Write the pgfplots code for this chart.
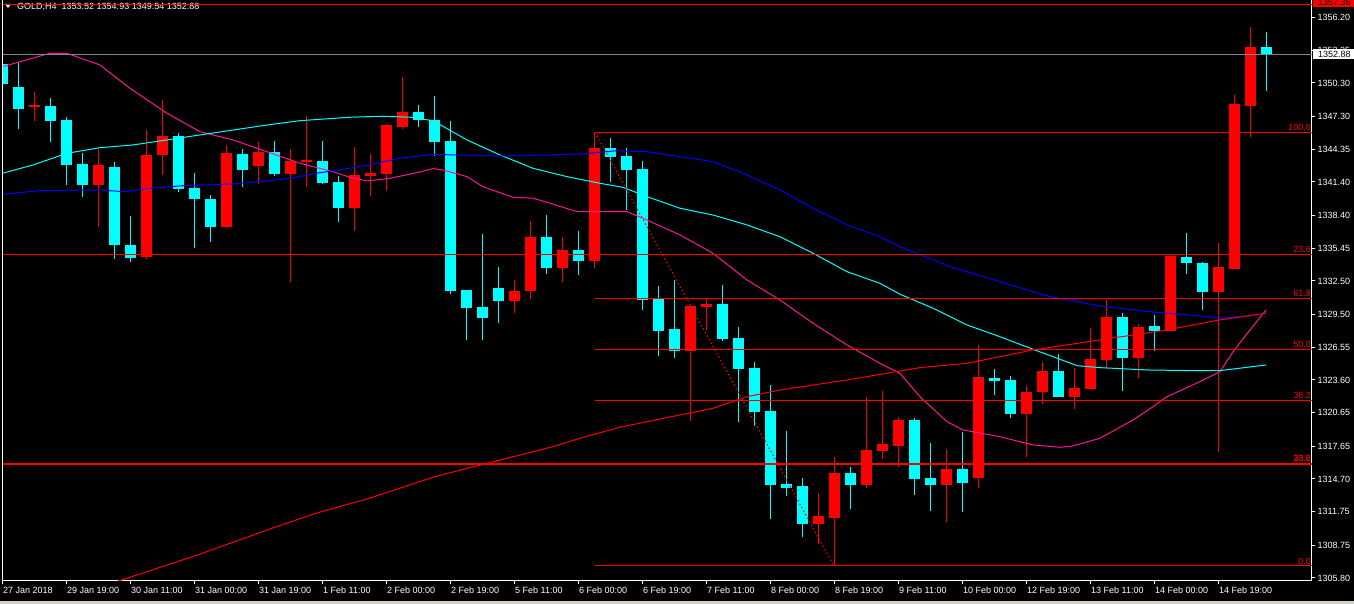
\documentclass[border=0pt]{standalone}
\usepackage{fontspec}
\setmainfont{Liberation Sans}
\usepackage{pgfplots}
\usepackage{pgfplotstable}
\pgfplotsset{compat=1.18}

\definecolor{mtcyan}{RGB}{0,255,255}
\definecolor{mtpink}{RGB}{255,20,147}
\definecolor{mtblue}{RGB}{0,0,255}
\definecolor{mtgrey}{RGB}{119,136,153}
\definecolor{winbg}{RGB}{212,208,200}

% H4 candles, i = bar number
\pgfplotstableread{
i o h l c
2 1348.10 1349.49 1346.91 1348.28
6 1341.16 1344.37 1337.38 1342.93
9 1334.68 1346.07 1334.50 1343.83
10 1343.83 1348.77 1342.06 1345.53
14 1337.38 1344.72 1337.29 1344.01
16 1342.86 1344.99 1341.25 1344.10
18 1342.14 1344.37 1332.44 1343.29
19 1343.20 1347.33 1340.98 1343.38
22 1339.09 1344.55 1337.02 1342.03
23 1341.97 1343.92 1340.17 1342.21
24 1342.14 1346.61 1340.62 1346.52
25 1346.37 1350.84 1346.19 1347.69
32 1330.73 1332.62 1329.65 1331.63
33 1331.63 1337.92 1330.91 1336.48
35 1333.69 1336.48 1332.44 1335.31
37 1334.32 1345.83 1333.69 1344.48
43 1326.23 1330.30 1319.94 1330.25
44 1330.19 1330.88 1328.12 1330.43
51 1310.68 1313.47 1308.88 1311.40
52 1311.22 1316.71 1306.88 1315.27
54 1314.19 1322.10 1313.92 1317.33
55 1317.24 1322.64 1316.52 1317.87
56 1317.69 1320.30 1315.81 1320.03
59 1314.19 1317.42 1310.86 1315.63
61 1314.82 1326.77 1313.92 1323.90
64 1320.57 1323.09 1316.70 1322.55
65 1322.55 1325.24 1321.47 1324.43
67 1322.10 1324.70 1321.02 1322.91
68 1322.82 1328.30 1322.82 1325.51
69 1325.42 1330.82 1324.61 1329.29
71 1325.60 1328.66 1323.81 1328.39
73 1328.03 1334.77 1328.03 1334.77
76 1331.54 1335.94 1317.15 1333.78
77 1333.60 1349.22 1333.60 1348.41
78 1348.26 1355.33 1345.47 1353.53
}\bull

\pgfplotstableread{
i o h l c
0 1352.00 1354.16 1348.62 1350.23
1 1349.94 1352.19 1346.19 1347.99
3 1348.23 1348.95 1345.02 1346.91
4 1346.97 1347.27 1341.16 1342.95
5 1343.02 1344.03 1340.08 1341.16
7 1342.75 1343.20 1334.50 1335.76
8 1335.74 1338.34 1334.23 1334.59
11 1345.53 1345.78 1340.53 1340.80
12 1340.86 1342.21 1335.49 1339.87
13 1339.87 1340.23 1336.03 1337.38
15 1343.92 1344.37 1340.98 1342.51
17 1344.10 1345.08 1341.97 1342.14
20 1343.29 1345.08 1341.22 1341.31
21 1341.40 1341.97 1337.83 1339.09
26 1347.69 1348.32 1346.37 1347.00
27 1346.97 1349.13 1343.76 1345.02
28 1345.08 1346.88 1331.36 1331.63
29 1331.69 1331.69 1327.22 1330.10
30 1330.19 1336.75 1327.22 1329.20
31 1331.90 1333.78 1328.75 1330.73
34 1336.48 1338.46 1333.15 1333.69
36 1335.31 1337.02 1333.06 1334.32
38 1344.45 1345.35 1341.43 1343.67
39 1343.74 1344.45 1338.91 1342.51
40 1342.57 1343.29 1329.92 1330.82
41 1330.88 1332.05 1325.78 1328.03
42 1328.18 1332.59 1325.60 1326.23
45 1330.43 1332.14 1327.13 1327.31
46 1327.40 1328.36 1319.85 1324.61
47 1324.70 1325.24 1319.49 1320.75
48 1320.84 1323.17 1311.13 1314.19
49 1314.28 1319.04 1313.20 1313.92
50 1314.10 1314.82 1309.51 1310.68
53 1315.27 1315.81 1312.03 1314.19
57 1320.00 1320.21 1313.29 1314.73
58 1314.82 1317.96 1311.85 1314.19
60 1315.63 1318.95 1311.76 1314.37
62 1323.81 1324.61 1322.28 1323.54
63 1323.63 1323.99 1320.21 1320.57
66 1324.43 1325.96 1322.10 1322.10
70 1329.29 1329.65 1322.64 1325.60
72 1328.48 1329.47 1326.23 1328.03
74 1334.68 1336.81 1333.15 1334.14
75 1334.14 1334.23 1329.92 1331.54
79 1353.52 1354.93 1349.54 1352.88
}\bear

\pgfplotsset{
  wick/.style={draw=none, no markers, forget plot,
    /pgfplots/error bars/y dir=both, /pgfplots/error bars/y explicit,
    /pgfplots/error bars/error mark=none,
    /pgfplots/error bars/error bar style={draw=#1, line width=1pt}},
  body/.style={draw=none, no markers, forget plot,
    /pgfplots/error bars/y dir=both, /pgfplots/error bars/y explicit,
    /pgfplots/error bars/error mark=none,
    /pgfplots/error bars/error bar style={draw=#1, line width=11pt}},
}
\tikzset{fibl/.style={anchor=south east, inner sep=0pt, text=red, xshift=-1pt, yshift=1.5pt}}

\begin{document}
\begin{tikzpicture}[font=\fontsize{9}{10}\selectfont]
\useasboundingbox (-2pt,-23pt) rectangle (1352pt,581pt);
\fill[black] (-2pt,-23pt) rectangle (1352pt,581pt);
\fill[winbg] (-2pt,-23pt) rectangle (1352pt,-20.5pt);
\begin{axis}[
  at={(0pt,0pt)}, anchor=south west,
  scale only axis, width=1310pt, height=581pt,
  xmin=-0.03, xmax=81.84, ymin=1305.53, ymax=1357.76,
  axis x line*=bottom, axis y line*=right,
  axis line style={white, line width=1pt},
  clip mode=individual,
  tick align=outside, major tick length=3.5pt,
  tick style={white, line width=1pt},
  xtick={0,4,...,76},
  xticklabels={27 Jan 2018,29 Jan 19:00,30 Jan 11:00,31 Jan 00:00,31 Jan 19:00,
    1 Feb 11:00,2 Feb 00:00,2 Feb 19:00,5 Feb 11:00,6 Feb 00:00,6 Feb 19:00,
    7 Feb 11:00,8 Feb 00:00,8 Feb 19:00,9 Feb 11:00,10 Feb 00:00,12 Feb 19:00,
    13 Feb 11:00,14 Feb 00:00,14 Feb 19:00},
  ytick={1305.80,1308.75,1311.75,1314.70,1317.65,1320.65,1323.60,1326.55,1329.50,
    1332.50,1335.45,1338.40,1341.40,1344.35,1347.30,1350.30,1353.25,1356.20},
  yticklabels={1305.80,1308.75,1311.75,1314.70,1317.65,1320.65,1323.60,1326.55,1329.50,
    1332.50,1335.45,1338.40,1341.40,1344.35,1347.30,1350.30,1353.25,1356.20},
  tick label style={font=\fontsize{9}{10}\selectfont, text=white, inner sep=0pt},
  xticklabel style={anchor=north west, xshift=0.5pt, yshift=-2.5pt},
  yticklabel style={anchor=west, xshift=2pt},
]
% candles
\addplot[wick=red] table[x=i, y expr=(\thisrow{h}+\thisrow{l})/2, y error expr=(\thisrow{h}-\thisrow{l})/2] {\bull};
\addplot[wick=mtcyan] table[x=i, y expr=(\thisrow{h}+\thisrow{l})/2, y error expr=(\thisrow{h}-\thisrow{l})/2] {\bear};
\addplot[body=red] table[x=i, y expr=(\thisrow{o}+\thisrow{c})/2, y error expr=(\thisrow{c}-\thisrow{o})/2] {\bull};
\addplot[body=mtcyan] table[x=i, y expr=(\thisrow{o}+\thisrow{c})/2, y error expr=(\thisrow{o}-\thisrow{c})/2] {\bear};

% moving averages
\addplot[mtpink, line width=1pt] coordinates {
(0,1351.76) (2.97,1352.97) (4.03,1352.97) (6.09,1351.92) (7.97,1349.82) (10.28,1347.58)
(12.34,1345.92) (14.41,1345.18) (16.53,1344.12) (18.59,1343.08) (20.66,1342.33)
(21.72,1341.82) (22.78,1341.49) (24.22,1341.73) (25.91,1342.24) (26.91,1342.60)
(27.53,1342.48) (29.03,1341.88) (30.03,1340.98) (31.91,1340.02) (33.16,1339.94)
(34.22,1339.49) (35.91,1338.73) (37.34,1338.73) (39.03,1338.73) (40.28,1337.98)
(42.34,1336.64) (44.41,1334.99) (46.53,1332.59) (48.59,1330.79) (50.66,1328.70)
(52.78,1326.75) (54.84,1325.10) (56.09,1324.20) (57.34,1322.10) (59.03,1319.85)
(60.03,1319.11) (62.34,1318.50) (64.41,1317.76) (66.09,1317.55) (66.91,1317.67)
(68.59,1318.36) (70.66,1320.01) (71.91,1321.20) (72.78,1322.10) (74.84,1323.45)
(76.09,1324.35) (76.91,1326.15) (77.97,1328.10) (78.97,1329.89)};
\addplot[mtcyan, line width=1pt] coordinates {
(0,1342.18) (1.91,1342.93) (4.03,1343.98) (6.09,1344.48) (8.16,1344.73) (10.28,1345.18)
(12.34,1345.63) (14.41,1346.07) (16.53,1346.52) (18.59,1346.91) (21.72,1347.22)
(23.78,1347.31) (25.47,1347.22) (26.91,1346.91) (29.03,1345.18) (31.09,1343.83)
(33.16,1342.63) (35.28,1341.88) (37.34,1341.28) (38.78,1340.92) (40.28,1340.08)
(42.34,1339.04) (44.41,1338.43) (46.53,1337.54) (48.59,1336.48) (50.66,1334.99)
(52.78,1333.34) (54.84,1332.29) (56.09,1331.31) (58.16,1330.05) (60.28,1328.55)
(62.34,1327.49) (64.41,1326.36) (67.16,1324.89) (68.59,1324.71) (71.53,1324.50)
(74.41,1324.44) (76.09,1324.44) (77.78,1324.74) (78.97,1324.95)};
\addplot[mtblue, line width=1pt] coordinates {
(0,1340.29) (2.34,1340.62) (6.09,1340.68) (7.53,1340.53) (9.22,1340.83) (11.28,1341.07)
(14.41,1341.22) (16.53,1341.49) (17.97,1341.73) (19.84,1342.24) (21.09,1342.48)
(22.78,1342.90) (24.84,1343.53) (26.91,1343.89) (29.03,1343.80) (31.09,1343.74)
(33.16,1343.80) (36.28,1343.92) (38.41,1344.21) (40.28,1344.12) (42.34,1343.67)
(44.41,1343.23) (46.53,1342.03) (48.59,1340.68) (50.66,1339.04) (52.78,1337.54)
(54.84,1336.48) (56.09,1335.58) (59.22,1333.79) (62.34,1332.44) (65.47,1331.09)
(68.59,1330.25) (71.72,1329.74) (74.84,1329.36) (76.09,1329.15) (77.78,1329.38)
(78.97,1329.60)};
\addplot[red, line width=1pt] coordinates {
(4.84,1304.36) (7.26,1305.53) (12.19,1307.87) (17.14,1310.42) (19.59,1311.62)
(22.94,1312.97) (27.02,1314.91) (30.47,1316.17) (34.41,1317.61) (36.09,1318.36)
(38.59,1319.35) (40.28,1319.85) (44.41,1321.06) (46.53,1322.10) (48.59,1322.70)
(52.78,1323.60) (57.34,1324.71) (60.28,1325.10) (64.41,1326.30) (68.59,1327.20)
(72.78,1328.10) (76.09,1329.00) (78.97,1329.60)};

% fibonacci levels and other objects
\addplot[red, line width=1pt] coordinates {(37.03,1345.87) (81.84,1345.87)};
\addplot[red, line width=1pt] coordinates {(-0.03,1334.90) (81.84,1334.90)};
\addplot[red, line width=1pt] coordinates {(37.03,1330.95) (81.84,1330.95)};
\addplot[red, line width=1pt] coordinates {(37.03,1326.36) (81.84,1326.36)};
\addplot[red, line width=1pt] coordinates {(37.03,1321.80) (81.84,1321.80)};
\addplot[red, line width=2pt] coordinates {(-0.03,1316.08) (81.84,1316.08)};
\addplot[red, line width=1pt] coordinates {(37.03,1306.88) (81.84,1306.88)};
\addplot[red, line width=1pt, dash pattern=on 1.5pt off 2.5pt] coordinates {(37.03,1345.87) (51.97,1306.88)};
\addplot[mtgrey, line width=1pt] coordinates {(-0.03,1352.88) (81.84,1352.88)};

\node[fibl] at (axis cs:81.84,1345.87) {100.0};
\node[fibl] at (axis cs:81.84,1334.90) {23.6};
\node[fibl] at (axis cs:81.84,1330.95) {61.8};
\node[fibl] at (axis cs:81.84,1326.36) {50.0};
\node[fibl] at (axis cs:81.84,1321.80) {38.2};
\node[fibl] at (axis cs:81.84,1316.08) {23.6};
\node[fibl] at (axis cs:81.84,1316.08) {38.2};
\node[fibl] at (axis cs:81.84,1306.88) {0.0};

% title
\fill[white] ([xshift=3pt,yshift=-4pt]rel axis cs:0,1) -- ([xshift=9pt,yshift=-4pt]rel axis cs:0,1) -- ([xshift=6pt,yshift=-8pt]rel axis cs:0,1) -- cycle;
\node[anchor=base west, inner sep=0pt, text=white] at ([xshift=15pt,yshift=-10pt]rel axis cs:0,1) {GOLD,H4\ \ 1353.52 1354.93 1349.54 1352.88};
\addplot[red, line width=1pt] coordinates {(-0.03,1357.37) (81.84,1357.37)};

% price boxes on the scale
\node[anchor=west, fill=white, text=black, inner xsep=5pt, inner ysep=0pt, minimum height=10pt] at ([xshift=1pt]axis cs:81.84,1352.88) {1352.88};
\node[anchor=west, fill=red, text=black, inner xsep=5pt, inner ysep=0pt, minimum height=10pt] at ([xshift=1pt]axis cs:81.84,1357.55) {1357.36};

\draw[white, line width=1pt] (rel axis cs:0,0) -- (rel axis cs:0,1);
\end{axis}
\end{tikzpicture}
\end{document}
